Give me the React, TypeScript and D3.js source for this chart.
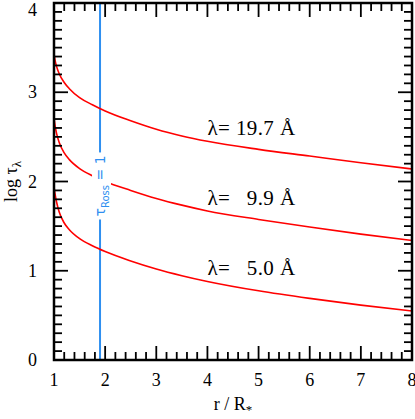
import { useEffect, useRef } from "react";
import * as d3 from "d3";

// radius grid (r / R*) and log tau for each wavelength
const rGrid = [1.0, 1.02, 1.05, 1.1, 1.2, 1.3, 1.5, 1.75, 2.0, 2.5, 3.0, 3.5, 4.0, 5.0, 6.0, 7.0, 8.0];
const tau197 = [3.43, 3.36, 3.29, 3.21, 3.11, 3.04, 2.94, 2.86, 2.79, 2.68, 2.585, 2.51, 2.45, 2.36, 2.285, 2.21, 2.14];
const tau99 = [2.71, 2.63, 2.54, 2.44, 2.32, 2.245, 2.145, 2.065, 2.0, 1.9, 1.81, 1.735, 1.67, 1.575, 1.49, 1.41, 1.34];
const tau50 = [1.94, 1.86, 1.77, 1.66, 1.535, 1.46, 1.36, 1.28, 1.215, 1.11, 1.02, 0.945, 0.88, 0.775, 0.69, 0.615, 0.55];

const seriesLabels = ["λ= 19.7 Å", "λ=\u2007 9.9 Å", "λ=\u2007 5.0 Å"];
const labelR = [4.0, 4.0, 4.0];
const labelTau = [2.52, 1.74, 0.95];

const rossR = 1.9; // tau_Ross = 1 radius
const xTicks = [1, 2, 3, 4, 5, 6, 7, 8];
const yTicks = [0, 1, 2, 3, 4];

export default function App() {
  const svgRef = useRef<SVGSVGElement>(null);

  useEffect(() => {
    const svg = d3.select(svgRef.current);
    svg.selectAll("*").remove();

    const width = 415;
    const height = 419;
    const margin = { top: 3, right: 3, bottom: 59, left: 54 };
    const serif = "'Liberation Serif', 'Times New Roman', serif";

    const x = d3.scaleLinear().domain([1, 8]).range([margin.left, width - margin.right]);
    const y = d3.scaleLinear().domain([0, 4]).range([height - margin.bottom, margin.top]);
    const [x0, x1] = x.range();
    const [y0, y1] = y.range(); // y0 bottom, y1 top

    svg.append("rect").attr("width", width).attr("height", height).attr("fill", "#fff");

    // tau_Ross = 1 line
    svg
      .append("line")
      .attr("x1", x(rossR))
      .attr("x2", x(rossR))
      .attr("y1", y0)
      .attr("y2", y1)
      .attr("stroke", "#2f8ff0")
      .attr("stroke-width", 2);

    // curves
    const line = d3
      .line<number>()
      .x((_, i) => x(rGrid[i]))
      .y(d => y(d))
      .curve(d3.curveMonotoneX);

    [tau197, tau99, tau50].forEach(s => {
      svg
        .append("path")
        .attr("d", line(s))
        .attr("fill", "none")
        .attr("stroke", "#ff0000")
        .attr("stroke-width", 1.6);
    });

    // curve labels
    seriesLabels.forEach((t, i) => {
      svg
        .append("text")
        .attr("x", x(labelR[i]))
        .attr("y", y(labelTau[i]))
        .attr("font-family", serif)
        .attr("font-size", 21)
        .attr("letter-spacing", 0.4)
        .attr("fill", "#000")
        .style("white-space", "pre")
        .text(t);
    });

    // rotated tau_Ross label with white background
    const lg = svg
      .append("g")
      .attr("transform", `translate(${x(rossR) + 5},${y(1.95)}) rotate(-90)`);
    const bg = lg.append("rect").attr("fill", "#fff");
    const lt = lg
      .append("text")
      .attr("text-anchor", "middle")
      .attr("font-family", "'DejaVu Sans', sans-serif")
      .attr("font-size", 14)
      .attr("fill", "#2f8ff0");
    lt.append("tspan").text("τ");
    lt.append("tspan").attr("font-size", 10).attr("dy", 4).text("Ross");
    lt.append("tspan").attr("dy", -4).text(" = 1");
    const bb = (lt.node() as SVGTextElement).getBBox();
    bg.attr("x", bb.x - 3)
      .attr("y", bb.y)
      .attr("width", bb.width + 6)
      .attr("height", bb.height);

    // ticks on all four sides, pointing inward
    const ticks = svg.append("g").attr("stroke", "#000").attr("stroke-width", 1.8);
    const xMinor = d3.range(1, 8.0001, 0.2);
    const yMinor = d3.range(0, 4.0001, 0.1);
    const isMajor = (v: number) => Math.abs(v - Math.round(v)) < 1e-6;

    xMinor.forEach(v => {
      const len = isMajor(v) ? 14 : 8;
      ticks.append("line").attr("x1", x(v)).attr("x2", x(v)).attr("y1", y0).attr("y2", y0 - len);
      ticks.append("line").attr("x1", x(v)).attr("x2", x(v)).attr("y1", y1).attr("y2", y1 + len);
    });
    yMinor.forEach(v => {
      const len = isMajor(v) ? 14 : 8;
      ticks.append("line").attr("x1", x0).attr("x2", x0 + len).attr("y1", y(v)).attr("y2", y(v));
      ticks.append("line").attr("x1", x1).attr("x2", x1 - len).attr("y1", y(v)).attr("y2", y(v));
    });

    // frame
    svg
      .append("rect")
      .attr("x", x0)
      .attr("y", y1)
      .attr("width", x1 - x0)
      .attr("height", y0 - y1)
      .attr("fill", "none")
      .attr("stroke", "#000")
      .attr("stroke-width", 2.5);

    // tick labels
    svg
      .append("g")
      .selectAll("text")
      .data(xTicks)
      .enter()
      .append("text")
      .attr("x", d => x(d))
      .attr("y", y0 + 26)
      .attr("text-anchor", "middle")
      .attr("font-family", serif)
      .attr("font-size", 18)
      .text(d => d);

    svg
      .append("g")
      .selectAll("text")
      .data(yTicks)
      .enter()
      .append("text")
      .attr("x", x0 - 17)
      .attr("y", d => Math.max(y(d), 10) + 6)
      .attr("text-anchor", "end")
      .attr("font-family", serif)
      .attr("font-size", 18)
      .text(d => d);

    // axis titles
    const xt = svg
      .append("text")
      .attr("x", (x0 + x1) / 2)
      .attr("y", 410)
      .attr("text-anchor", "middle")
      .attr("font-family", serif)
      .attr("font-size", 18);
    xt.append("tspan").text("r / R");
    xt.append("tspan").attr("font-size", 13).attr("dy", 4).text("*");

    const yt = svg
      .append("text")
      .attr("transform", `translate(17,${(y0 + y1) / 2}) rotate(-90)`)
      .attr("text-anchor", "middle")
      .attr("font-family", serif)
      .attr("font-size", 18);
    yt.append("tspan").text("log τ");
    yt.append("tspan").attr("font-size", 13).attr("dy", 4).text("λ");
  }, []);

  return (
    <svg
      ref={svgRef}
      width={415}
      height={419}
      style={{ position: "absolute", left: 0, top: 0 }}
    />
  );
}
